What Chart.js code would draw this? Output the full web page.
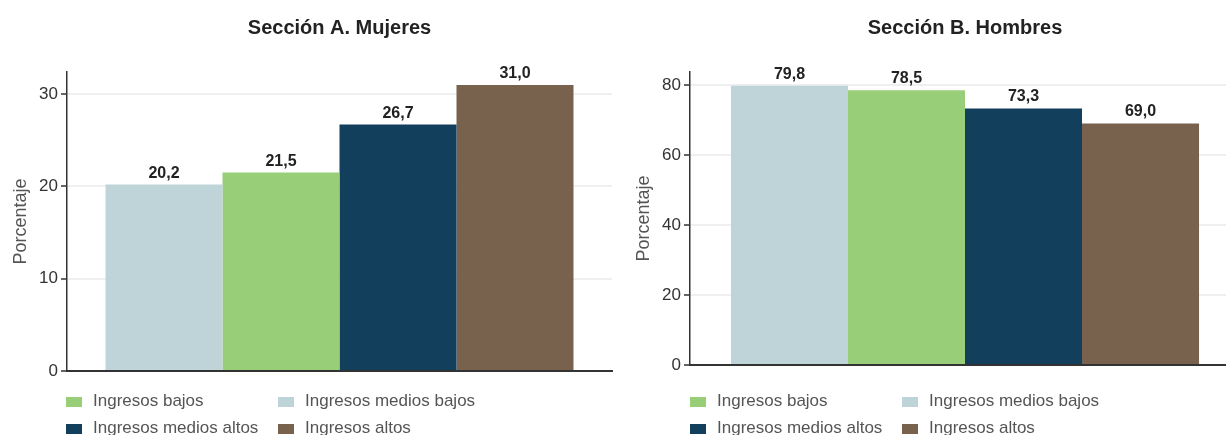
<!DOCTYPE html>
<html>
<head>
<meta charset="utf-8">
<script src="https://cdn.jsdelivr.net/npm/chart.js@4/dist/chart.umd.min.js"></script>
<style>
  html, body { margin: 0; padding: 0; background: #fff; }
  body { width: 1226px; height: 435px; overflow: hidden; position: relative; font-family: "Liberation Sans", Arial, sans-serif; }
  .panel { position: absolute; top: 0; height: 435px; }
  .legend { position: absolute; font-size: 17px; color: #555; }
  .item { position: absolute; white-space: nowrap; line-height: 20px; }
  .item span.box { position: absolute; width: 16px; height: 10px; top: 6px; left: 0; }
  .item span.txt { position: absolute; left: 27px; top: 0; }
</style>
</head>
<body>
<div class="panel" style="left:0;width:615px"><canvas id="chartA"></canvas></div>
<div class="panel" style="left:623px;width:625px"><canvas id="chartB"></canvas></div>
<div class="legend" id="legendA" style="left:66px;top:391px"></div>
<div class="legend" id="legendB" style="left:690px;top:391px"></div>
<script>
// series (bar order as drawn)
const seriesNames = ['Ingresos medios bajos', 'Ingresos bajos', 'Ingresos medios altos', 'Ingresos altos'];
const seriesColors = ['#bfd4d9', '#98ce78', '#123f5c', '#78624e'];
const mujeres = [20.2, 21.5, 26.7, 31.0];
const hombres = [79.8, 78.5, 73.3, 69.0];
// y tick values
const ticksMujeres = [0, 10, 20, 30];
const ticksHombres = [0, 20, 40, 60, 80];
// legend order
const legendOrder = ['Ingresos bajos', 'Ingresos medios bajos', 'Ingresos medios altos', 'Ingresos altos'];

const FONT = '"Liberation Sans", Arial, sans-serif';

const valueLabels = {
  id: 'valueLabels',
  afterDatasetsDraw(chart) {
    const ctx = chart.ctx;
    ctx.save();
    ctx.font = 'bold 16px ' + FONT;
    ctx.fillStyle = '#222';
    ctx.textAlign = 'center';
    ctx.textBaseline = 'alphabetic';
    chart.data.datasets.forEach((ds, i) => {
      const bar = chart.getDatasetMeta(i).data[0];
      const txt = ds.data[0].toFixed(1).replace('.', ',');
      ctx.fillText(txt, bar.x, bar.y - 7);
    });
    ctx.restore();
  }
};

function makeChart(id, title, values, tickVals, yMax, catPct, padRight, padBottom, width) {
  const canvas = document.getElementById(id);
  canvas.width = width;
  canvas.height = 435;
  canvas.style.width = width + 'px';
  canvas.style.height = '435px';
  return new Chart(canvas, {
    type: 'bar',
    data: {
      labels: [''],
      datasets: seriesNames.map((name, i) => ({
        label: name,
        data: [values[i]],
        backgroundColor: seriesColors[i],
        borderWidth: 0,
        barPercentage: 1,
        categoryPercentage: catPct
      }))
    },
    options: {
      responsive: false,
      animation: false,
      layout: { padding: { left: 0, right: padRight, top: 0, bottom: padBottom } },
      plugins: {
        legend: { display: false },
        tooltip: { enabled: false },
        title: {
          display: true,
          text: title,
          fullSize: false,
          color: '#222',
          font: { family: FONT, size: 20, weight: 'bold', lineHeight: 1.2 },
          padding: { top: 16, bottom: 32 }
        }
      },
      scales: {
        x: {
          grid: { display: false },
          ticks: { display: false },
          border: { color: '#333', width: 2 },
          afterFit(scale) { scale.height = 0; }
        },
        y: {
          min: 0,
          max: yMax,
          ticks: {
            color: '#333',
            padding: 3,
            font: { family: FONT, size: 17 }
          },
          afterBuildTicks(scale) {
            scale.ticks = tickVals.map(v => ({ value: v }));
          },
          grid: { color: '#efefef', lineWidth: 2, tickColor: '#333', tickLength: 6, tickWidth: 1.5 },
          border: { color: '#333', width: 1.5 },
          title: {
            display: true,
            text: 'Porcentaje',
            color: '#555',
            font: { family: FONT, size: 18 },
            padding: { top: 10, bottom: 0 }
          },
          afterFit(scale) { scale.width = 67; }
        }
      }
    },
    plugins: [valueLabels]
  });
}

makeChart('chartA', 'Sección A. Mujeres', mujeres, ticksMujeres, 32.4, 0.8587, 3, 64, 615);
makeChart('chartB', 'Sección B. Hombres', hombres, ticksHombres, 83.7, 0.851, 8, 70, 625);

function buildLegend(id) {
  const el = document.getElementById(id);
  legendOrder.forEach((name, k) => {
    const i = seriesNames.indexOf(name);
    const item = document.createElement('div');
    item.className = 'item';
    item.style.left = (k % 2) * 212 + 'px';
    item.style.top = Math.floor(k / 2) * 27 + 'px';
    item.innerHTML = '<span class="box" style="background:' + seriesColors[i] + '"></span><span class="txt">' + name + '</span>';
    el.appendChild(item);
  });
}
buildLegend('legendA');
buildLegend('legendB');
</script>
</body>
</html>
